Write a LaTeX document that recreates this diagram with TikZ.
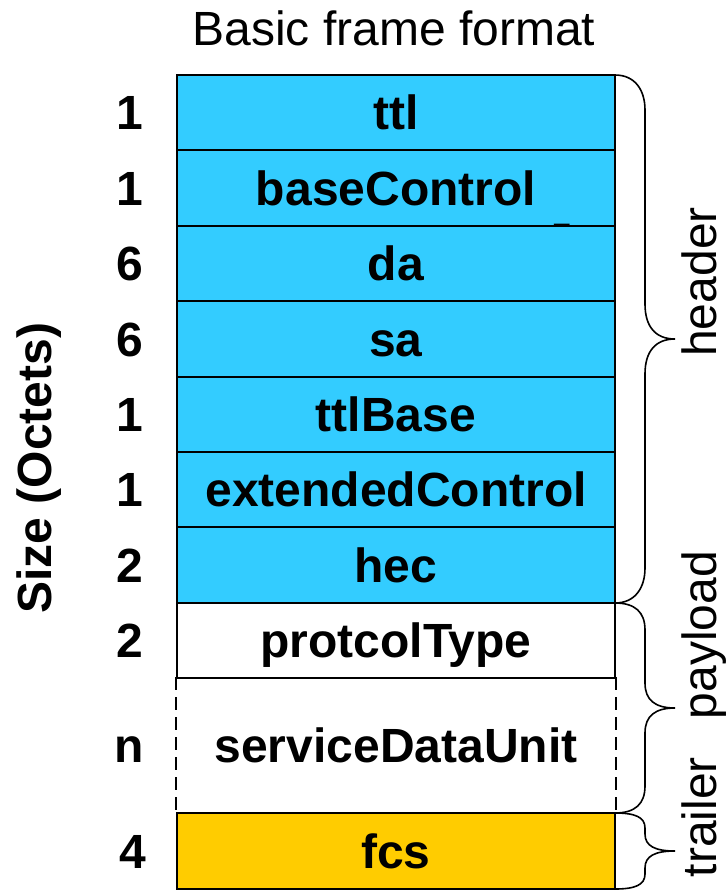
\documentclass[tikz,border=0pt]{standalone}
\usepackage{fontspec}
\setmainfont{Liberation Sans}
\usepackage{xcolor}
\definecolor{hdrblue}{RGB}{51,204,255}
\definecolor{fcsgold}{RGB}{255,204,0}

\begin{document}
\begin{tikzpicture}[x=0.5pt,y=0.5pt,yscale=-1,xscale=1,
    field/.style={draw=black, line width=1pt, minimum width=219pt, minimum height=37.7pt, inner sep=0pt, text height=17.2pt, text depth=0pt, font=\fontsize{24}{28}\selectfont\bfseries},
    octets/.style={inner sep=0pt, text height=17.2pt, text depth=0pt, font=\fontsize{24}{28}\selectfont\bfseries},
    sidelabel/.style={rotate=90, anchor=base, inner sep=0pt, font=\fontsize{24}{28}\selectfont},
    bracestyle/.style={line width=0.8pt}]
        \useasboundingbox (0,0) rectangle (727,890);

        % Text Node
        \node [anchor=base, inner sep=0pt, font=\fontsize{24}{28}\selectfont] (title) at (394,45) {Basic frame format};

        %Shape: Rectangle (header fields)
        \node [field, fill=hdrblue] (ttl) at (396,112.7) {ttl};
        \node [field, fill=hdrblue] (basectl) at (396,188.1) {baseControl};
        \node [field, fill=hdrblue] (da) at (396,263.5) {da};
        \node [field, fill=hdrblue] (sa) at (396,338.9) {sa};
        \node [field, fill=hdrblue] (ttlbase) at (396,414.3) {ttlBase};
        \node [field, fill=hdrblue] (extctl) at (396,489.7) {extendedControl};
        \node [field, fill=hdrblue] (hec) at (396,565.1) {hec};
        % Text Node
        \node [anchor=base, inner sep=0pt, font=\fontsize{13.5}{15}\selectfont] (bcmark) at (562,220) {\_};

        %Shape: Rectangle (payload fields)
        \node [field, fill=white] (ptype) at (396,640.5) {protcolType};
        \node [field, draw=none, minimum height=67.4pt] (sdu) at (396,745.6) {serviceDataUnit};
        \draw [line width=1pt, dash pattern=on 6.5pt off 3.5pt] (sdu.north west) -- (sdu.south west) (sdu.north east) -- (sdu.south east);

        %Shape: Rectangle (trailer field)
        \node [field, fill=fcsgold, minimum height=38pt] (fcs) at (396,851) {fcs};

        % Text Node (sizes)
        \node [octets] (n1) at (130,112.7) {1};
        \node [octets] (n2) at (130,188.1) {1};
        \node [octets] (n3) at (130,263.5) {6};
        \node [octets] (n4) at (130,338.9) {6};
        \node [octets] (n5) at (130,414.3) {1};
        \node [octets] (n6) at (130,489.7) {1};
        \node [octets] (n7) at (130,565.1) {2};
        \node [octets] (n8) at (130,640.5) {2};
        \node [octets] (n9) at (129,745.6) {n};
        \node [octets] (n10) at (133,851) {4};

        % Text Node
        \node [sidelabel, font=\fontsize{24}{28}\selectfont\bfseries] (sizelbl) at (52,468) {Size (Octets)};

        %Shape: Brace
        \draw [bracestyle] (615,75) .. controls (635,75) and (645,90) .. (645,110) -- (645,304) .. controls (645,326) and (655,339) .. (675,339) .. controls (655,339) and (645,352) .. (645,374) -- (645,568) .. controls (645,588) and (635,603) .. (615,603) ;
        %Shape: Brace
        \draw [bracestyle] (615,603) .. controls (635,603) and (645,612) .. (645,630) -- (645,683) .. controls (645,700) and (655,708) .. (675,708) .. controls (655,708) and (645,716) .. (645,733) -- (645,786) .. controls (645,804) and (635,813) .. (615,813) ;
        %Shape: Brace
        \draw [bracestyle] (615,813) .. controls (635,813) and (645,817) .. (645,828) -- (645,834) .. controls (645,846) and (655,851) .. (675,851) .. controls (655,851) and (645,856) .. (645,868) -- (645,874) .. controls (645,885) and (635,889) .. (615,889) ;

        % Text Node
        \node [sidelabel] (hdrlbl) at (716,282) {header};
        \node [sidelabel] (paylbl) at (716,635) {payload};
        \node [sidelabel] (trllbl) at (716,817) {trailer};

\end{tikzpicture}
\end{document}
